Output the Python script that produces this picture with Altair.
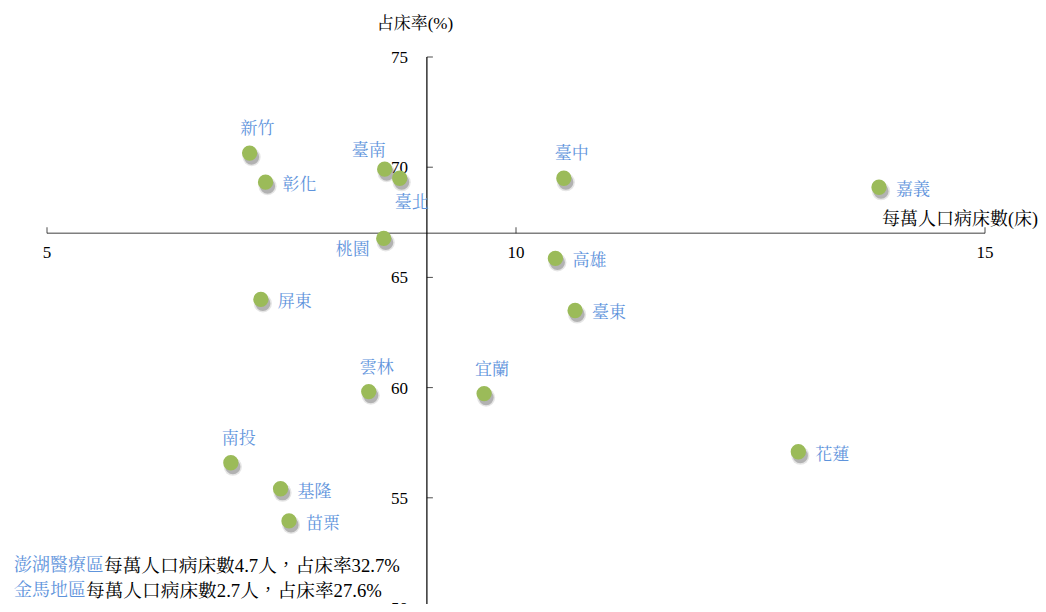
import altair as alt
import pandas as pd

# ---- data ----
regions = ["新竹", "彰化", "臺南", "臺北", "桃園", "臺中", "嘉義", "高雄",
           "臺東", "屏東", "雲林", "宜蘭", "南投", "基隆", "苗栗", "花蓮"]
beds_per_10k = [7.16, 7.33, 8.60, 8.76, 8.59, 10.51, 13.87, 10.42,
                10.63, 7.28, 8.43, 9.66, 6.96, 7.49, 7.58, 13.01]
occupancy = [70.64, 69.32, 69.91, 69.50, 66.77, 69.50, 69.09, 65.86,
             63.50, 64.00, 59.82, 59.73, 56.59, 55.41, 53.95, 57.09]
label_side = ["above", "right", "above-left", "below", "left", "above", "right", "right",
              "right", "right", "above", "above", "above", "right", "right", "right"]

x_ticks = [5, 10, 15]
y_ticks = [50, 55, 60, 65, 70, 75]
x_cross = 9.05   # where the vertical axis crosses
y_cross = 67.0   # where the horizontal axis crosses

x_title = "每萬人口病床數(床)"
y_title = "占床率(%)"
note_regions = ["澎湖醫療區", "金馬地區"]
note_texts = ["每萬人口病床數4.7人，占床率32.7%", "每萬人口病床數2.7人，占床率27.6%"]

# ---- styling ----
GREEN = "#9BBB59"
BLUE = "#5F94DC"
CJK = "Liberation Serif, Noto Serif CJK TC, Noto Sans CJK TC"
NUM = "Liberation Serif"

W, H = 938, 547
xs = alt.Scale(domain=[x_ticks[0], x_ticks[-1]], nice=False, zero=False)
ys = alt.Scale(domain=[y_ticks[0], y_ticks[-1]], range=[551, 0], nice=False, zero=False)

pts = pd.DataFrame({"region": regions, "x": beds_per_10k, "y": occupancy, "side": label_side})

X = lambda f: alt.X(f, type="quantitative", scale=xs, axis=None)
Y = lambda f: alt.Y(f, type="quantitative", scale=ys, axis=None)

# axes lines
xaxis_df = pd.DataFrame({"x": [x_ticks[0]], "x2": [x_ticks[-1]], "y": [y_cross]})
x_axis = alt.Chart(xaxis_df).mark_rule(color="#7F7F7F", strokeWidth=1.6).encode(
    x=X("x"), x2="x2", y=Y("y"))
yaxis_df = pd.DataFrame({"x": [x_cross], "y": [y_ticks[0]], "y2": [y_ticks[-1]]})
y_axis = alt.Chart(yaxis_df).mark_rule(color="black", strokeWidth=1.2).encode(
    x=X("x"), y=Y("y"), y2="y2")

xt_df = pd.DataFrame({"x": x_ticks, "y": y_cross, "t": [str(v) for v in x_ticks]})
yt_df = pd.DataFrame({"x": x_cross, "y": y_ticks, "t": [str(v) for v in y_ticks]})

x_tickmarks = alt.Chart(xt_df).mark_tick(orient="vertical", size=6, thickness=1,
                                          color="black", yOffset=-3).encode(x=X("x"), y=Y("y"))
y_tickmarks = alt.Chart(yt_df).mark_tick(orient="horizontal", size=6, thickness=1,
                                          color="black", xOffset=3).encode(x=X("x"), y=Y("y"))
x_ticklabels = alt.Chart(xt_df).mark_text(font=NUM, fontSize=17, color="black",
                                           baseline="middle", dy=20).encode(
    x=X("x"), y=Y("y"), text="t")
y_ticklabels = alt.Chart(yt_df).mark_text(font=NUM, fontSize=17, color="black",
                                           align="right", baseline="middle", dx=-19, dy=1).encode(
    x=X("x"), y=Y("y"), text="t")

ytitle_df = pd.DataFrame({"x": [x_cross], "t": [y_title]})
y_title_mark = alt.Chart(ytitle_df).mark_text(font=CJK, fontSize=17, color="black",
                                               baseline="middle", dx=-12).encode(
    x=X("x"), y=alt.value(-33), text="t")
xtitle_df = pd.DataFrame({"x": [x_ticks[-1]], "y": [y_cross], "t": [x_title]})
x_title_mark = alt.Chart(xtitle_df).mark_text(font=CJK, fontSize=18, color="black",
                                               baseline="middle", dx=-25, dy=-13).encode(
    x=X("x"), y=Y("y"), text="t")

# points with a soft shadow
shadow1 = alt.Chart(pts).mark_circle(size=330, color="#000000", opacity=0.10,
                                     xOffset=2, yOffset=4).encode(x=X("x"), y=Y("y"))
shadow2 = alt.Chart(pts).mark_circle(size=230, color="#000000", opacity=0.22,
                                     xOffset=2, yOffset=4).encode(x=X("x"), y=Y("y"))
points = alt.Chart(pts).mark_circle(size=235, color=GREEN, opacity=1).encode(
    x=X("x"), y=Y("y"))

placements = {
    "above": dict(align="center", dx=8, dy=-24),
    "right": dict(align="left", dx=17, dy=3),
    "above-left": dict(align="center", dx=-16, dy=-18),
    "below": dict(align="center", dx=12, dy=25),
    "left": dict(align="right", dx=-14, dy=12),
}
label_layers = []
for side, opts in placements.items():
    label_layers.append(
        alt.Chart(pts).transform_filter(alt.datum.side == side).mark_text(
            font=CJK, fontSize=17, color=BLUE, baseline="middle", **opts).encode(
            x=X("x"), y=Y("y"), text="region"))

# notes at the bottom-left
notes_df = pd.DataFrame({"r": note_regions, "t": note_texts})
note_layers = []
for i in range(len(note_regions)):
    row = notes_df.iloc[[i]]
    ypix = 509 + 25 * i
    note_layers.append(alt.Chart(row).mark_text(font=CJK, fontSize=18, color=BLUE,
                                                align="left", baseline="middle").encode(
        x=alt.value(-33), y=alt.value(ypix), text="r"))
    note_layers.append(alt.Chart(row).mark_text(font=CJK, fontSize=18.7, color="black",
                                                align="left", baseline="middle").encode(
        x=alt.value(-33 + 18 * len(note_regions[i])), y=alt.value(ypix), text="t"))

chart = alt.layer(
    x_axis, y_axis, x_tickmarks, y_tickmarks, x_ticklabels, y_ticklabels,
    y_title_mark, x_title_mark, shadow1, shadow2, points, *label_layers, *note_layers
).properties(
    width=W, height=H,
    autosize=alt.AutoSizeParams(type="none"),
    padding={"left": 39, "top": 49, "right": 53, "bottom": 0},
).configure_view(stroke=None)

chart.save("out.html", embed_options={"renderer": "svg", "actions": False})
